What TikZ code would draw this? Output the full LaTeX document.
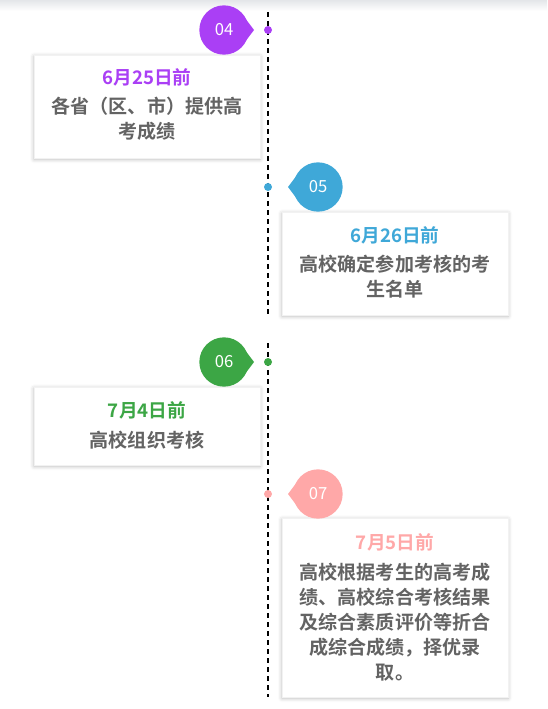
\documentclass[tikz,border=0pt]{standalone}
\usepackage{fontspec}
\setmainfont{Noto Sans CJK SC}[BoldFont={* Bold}]
\usetikzlibrary{shadows.blur,calc}
\definecolor{cpurple}{HTML}{AA3FF5}
\definecolor{cblue}{HTML}{3FA8D8}
\definecolor{cgreen}{HTML}{3CA645}
\definecolor{cpink}{HTML}{FFA8A8}
\definecolor{ctext}{HTML}{636363}
\definecolor{ctop}{HTML}{E4E6E9}
\begin{document}
\begin{tikzpicture}[x=0.75pt,y=-0.75pt,
  card/.style={fill=white, draw=black!5, line width=0.4pt, inner sep=0pt, outer sep=0pt,
    minimum width=169.5pt,
    blur shadow={shadow xshift=0pt, shadow yshift=-1pt, shadow blur radius=3pt, shadow opacity=28}},
  title/.style={font=\fontsize{14}{16}\selectfont\bfseries, inner sep=0pt},
  body/.style={font=\fontsize{14.3}{18.75}\selectfont\bfseries, text=ctext, align=center, inner sep=0pt},
  num/.style={font=\fontsize{12.5}{14}\selectfont, text=white, inner sep=0pt},
  dot/.style={circle, inner sep=0pt, minimum size=6pt},
  tl/.style={line width=1.6pt, dash pattern=on 3.75pt off 3pt}
]
\useasboundingbox (0,0) rectangle (547,709);
\shade[top color=ctop, bottom color=white] (0,0) rectangle (547,11);

% dashed timeline
\coordinate (l1a) at (268,12);
\coordinate (l1b) at (268,317);
\coordinate (l2a) at (268,343);
\coordinate (l2b) at (268,697);
\draw[tl] (l1a) -- (l1b);
\draw[tl] (l2a) -- (l2b);

% cards
\node[card, minimum height=77.25pt] (c1) at (147,106.5) {};
\node[card, minimum height=77.25pt] (c2) at (395,263.5) {};
\node[card, minimum height=58.5pt] (c3) at (147,426) {};
\node[card, minimum height=134.25pt] (c4) at (395,607.5) {};

% bubbles
\newcommand{\bubbleR}[2]{%
  \fill[#2] (#1) circle (18.5pt);
  \fill[#2] ($(#1)+(35:24)$) -- ($(#1)+(30,0)$) -- ($(#1)+(-35:24)$) -- cycle;}
\newcommand{\bubbleL}[2]{%
  \fill[#2] (#1) circle (18.5pt);
  \fill[#2] ($(#1)+(145:24)$) -- ($(#1)+(-30,0)$) -- ($(#1)+(-145:24)$) -- cycle;}

\coordinate (b4) at (224,30);
\coordinate (b5) at (318,187);
\coordinate (b6) at (224,362);
\coordinate (b7) at (318,494);
\bubbleR{b4}{cpurple}
\bubbleL{b5}{cblue}
\bubbleR{b6}{cgreen}
\bubbleL{b7}{cpink}
\node[num] (n4) at (b4) {04};
\node[num] (n5) at (b5) {05};
\node[num] (n6) at (b6) {06};
\node[num] (n7) at (b7) {07};

% dots
\node[dot, fill=cpurple] (d4) at (268,30) {};
\node[dot, fill=cblue] (d5) at (268,187) {};
\node[dot, fill=cgreen] (d6) at (268,362) {};
\node[dot, fill=cpink] (d7) at (268,494) {};

% texts
\node[title, text=cpurple] (t1) at (147,77) {6月25日前};
\node[body] (x1) at (147,118.5) {各省（区、市）提供高\\考成绩};
\node[title, text=cblue] (t2) at (395,235) {6月26日前};
\node[body] (x2) at (395,276.5) {高校确定参加考核的考\\生名单};
\node[title, text=cgreen] (t3) at (147,410) {7月4日前};
\node[body] (x3) at (147,440) {高校组织考核};
\node[title, text=cpink] (t4) at (395,542) {7月5日前};
\node[body] (x4) at (395,622) {高校根据考生的高考成\\绩、高校综合考核结果\\及综合素质评价等折合\\成综合成绩，择优录\\取。};
\end{tikzpicture}
\end{document}
